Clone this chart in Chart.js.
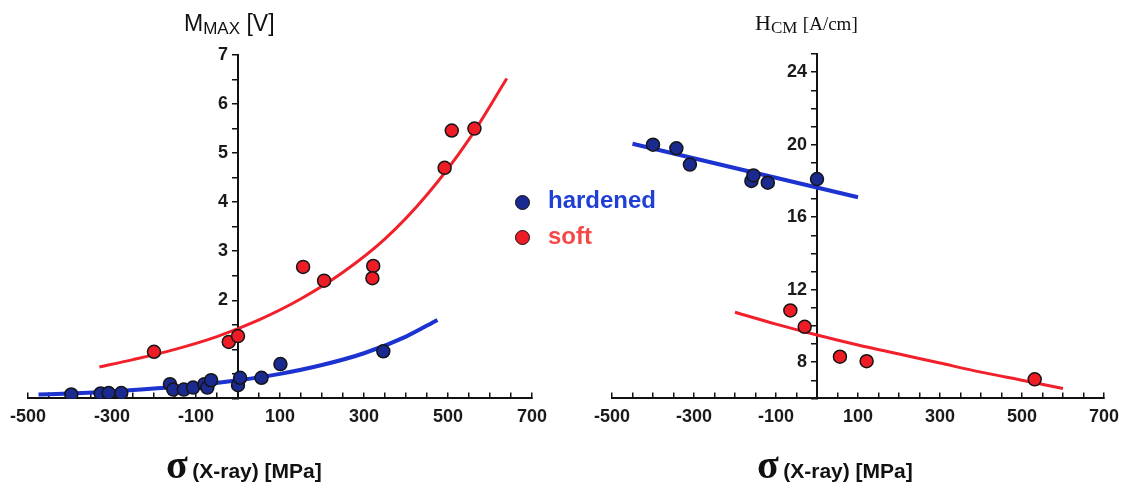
<!DOCTYPE html>
<html>
<head>
<meta charset="utf-8">
<script src="https://cdn.jsdelivr.net/npm/chart.js@4.4.1/dist/chart.umd.min.js"></script>
<style>
  body { margin: 0; background: #fff; width: 1125px; height: 483px; overflow: hidden; position: relative; font-family: "Liberation Sans", Arial, sans-serif; }
  .box { position: absolute; top: 0; height: 483px; }
  .lbl { position: absolute; white-space: nowrap; color: #111; }
  .dot { position: absolute; width: 13px; height: 13px; border-radius: 50%; border: 1.5px solid #111; }
</style>
</head>
<body>
<div class="box" style="left:-4px;width:565px"><canvas id="chartLeft"></canvas></div>
<div class="box" style="left:575px;width:558px"><canvas id="chartRight"></canvas></div>

<div class="lbl" style="left:184px;top:10px;font-size:23px">M<span style="font-size:17px;position:relative;top:3px">MAX</span> [V]</div>
<div class="lbl" style="left:755px;top:10px;font-family:'Liberation Serif',serif;font-size:22px">H<span style="font-size:17px;position:relative;top:3px">CM</span> <span style="font-size:19px">[A/cm]</span></div>

<div class="lbl" style="left:166px;top:441px;font-weight:bold"><span style="font-family:'Liberation Serif',serif;font-size:40px">σ</span> <span style="font-size:21px">(X-ray) [MPa]</span></div>
<div class="lbl" style="left:757px;top:441px;font-weight:bold"><span style="font-family:'Liberation Serif',serif;font-size:40px">σ</span> <span style="font-size:21px">(X-ray) [MPa]</span></div>

<div class="dot" style="left:515px;top:195px;background:#1b2a8f"></div>
<div class="lbl" style="left:548px;top:186px;font-size:24px;font-weight:bold;color:#1f3fd6">hardened</div>
<div class="dot" style="left:515px;top:230px;background:#ee1c25"></div>
<div class="lbl" style="left:548px;top:222px;font-size:24px;font-weight:bold;color:#f24848">soft</div>

<script>
// ---- left panel: M_MAX [V] vs sigma [MPa]
var hardSigmaL = [-397, -327, -308, -278, -162, -154, -129, -107, -80, -73, -64, 0, 5, 56, 101, 346];
var hardMmax   = [0.08, 0.10, 0.11, 0.11, 0.29, 0.18, 0.18, 0.22, 0.29, 0.22, 0.37, 0.27, 0.42, 0.42, 0.70, 0.96];
var softSigmaL = [-200, -22, 0, 155, 205, 322, 320, 492, 509, 563];
var softMmax   = [0.95, 1.15, 1.27, 2.68, 2.40, 2.70, 2.45, 4.70, 5.46, 5.50];

var hardFitSigmaL = [-475, -400, -300, -200, -100, 0, 100, 200, 300, 400, 475];
var hardFitMmax   = [0.08, 0.10, 0.14, 0.20, 0.27, 0.37, 0.50, 0.68, 0.92, 1.26, 1.60];
var softFitSigmaL = [-330, -250, -150, -50, 50, 150, 250, 350, 450, 550, 640];
var softFitMmax   = [0.64, 0.79, 1.00, 1.26, 1.60, 2.03, 2.57, 3.25, 4.15, 5.28, 6.52];

// ---- right panel: H_CM [A/cm] vs sigma [MPa]
var hardSigmaR = [-400, -343, -310, -160, -155, -120, 0];
var hardHcm    = [20.0, 19.8, 18.9, 18.0, 18.3, 17.9, 18.1];
var softSigmaR = [-65, -30, 56, 121, 531];
var softHcm    = [10.85, 9.95, 8.3, 8.05, 7.05];

var hardFitSigmaR = [-450, 100];
var hardFitHcm    = [20.05, 17.1];
var softFitSigmaR = [-200, -100, 0, 100, 200, 300, 400, 500, 600];
var softFitHcm    = [10.75, 10.1, 9.5, 8.95, 8.45, 7.95, 7.45, 7.0, 6.55];

// tick labels
var sigmaTicks = [-500, -300, -100, 100, 300, 500, 700];
var mmaxTicks = [2, 3, 4, 5, 6, 7];
var hcmTicks = [8, 12, 16, 20, 24];

var blueDot = '#1b2a8f', redDot = '#ee1c25';
var blueLine = '#1c33d0', redLine = '#f2202b';
var tickFont = { family: 'Liberation Sans', size: 18, weight: 'bold' };

function pts(xs, ys) {
  return xs.map(function (x, i) { return { x: x, y: ys[i] }; });
}

function pointSet(label, xs, ys, color) {
  return {
    label: label, data: pts(xs, ys), order: 1,
    backgroundColor: color, borderColor: '#151515', borderWidth: 1.5,
    pointRadius: 6.5, showLine: false
  };
}

function fitSet(xs, ys, color, w) {
  return {
    data: pts(xs, ys), order: 2, showLine: true, pointRadius: 0,
    borderColor: color, borderWidth: w, cubicInterpolationMode: 'monotone'
  };
}

function makeChart(id, datasets, yMin, yMax, yStep, yLabels, pad) {
  return new Chart(document.getElementById(id), {
    type: 'scatter',
    data: { datasets: datasets },
    options: {
      responsive: true,
      maintainAspectRatio: false,
      animation: false,
      layout: { padding: pad },
      plugins: { legend: { display: false }, tooltip: { enabled: false } },
      scales: {
        x: {
          min: -500, max: 700,
          border: { color: '#111', width: 2 },
          grid: { drawOnChartArea: false, tickLength: -6, color: '#111', lineWidth: 1.5 },
          ticks: {
            stepSize: 50, autoSkip: false, maxRotation: 0, padding: 14,
            color: '#1a1a1a', font: tickFont,
            callback: function (v) { return sigmaTicks.includes(v) ? String(v) : ''; }
          }
        },
        y: {
          position: { x: 0 },
          min: yMin, max: yMax,
          border: { color: '#111', width: 2 },
          grid: { drawOnChartArea: false, tickLength: 5, color: '#111', lineWidth: 1.5 },
          ticks: {
            stepSize: yStep, autoSkip: false,
            color: '#1a1a1a', font: tickFont,
            // labels sit right-aligned on the centred axis; two spaces keep them clear of it
            callback: function (v) { return yLabels.includes(v) ? v + '  ' : ''; }
          }
        }
      }
    }
  });
}

makeChart('chartLeft', [
  pointSet('hardened', hardSigmaL, hardMmax, blueDot),
  pointSet('soft', softSigmaL, softMmax, redDot),
  fitSet(hardFitSigmaL, hardFitMmax, blueLine, 4),
  fitSet(softFitSigmaL, softFitMmax, redLine, 3)
], 0, 7, 0.5, mmaxTicks, { left: 24, right: 27, top: 55, bottom: 41 });

makeChart('chartRight', [
  pointSet('hardened', hardSigmaR, hardHcm, blueDot),
  pointSet('soft', softSigmaR, softHcm, redDot),
  fitSet(hardFitSigmaR, hardFitHcm, blueLine, 4),
  fitSet(softFitSigmaR, softFitHcm, redLine, 3)
], 6, 25, 1, hcmTicks, { left: 37, right: 13, top: 54, bottom: 41 });
</script>
</body>
</html>
